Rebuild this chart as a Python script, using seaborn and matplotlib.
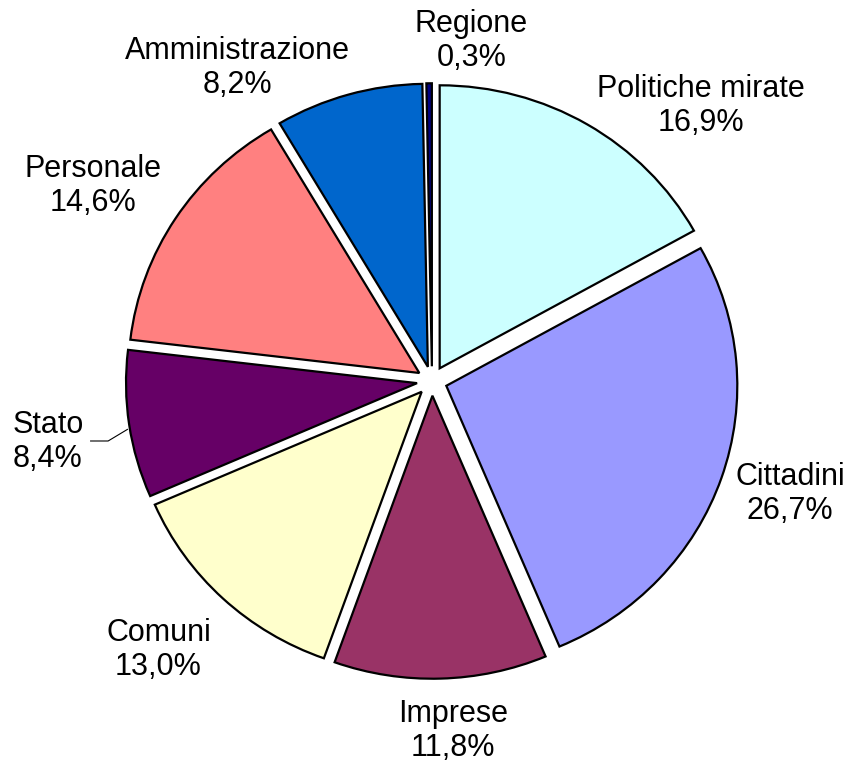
import matplotlib
matplotlib.use("Agg")
import matplotlib.pyplot as plt
import seaborn as sns

# Share of the total by destination (percent)
categories = ["Politiche mirate", "Cittadini", "Imprese", "Comuni",
              "Stato", "Personale", "Amministrazione", "Regione"]
shares = [16.9, 26.7, 11.8, 13.0, 8.4, 14.6, 8.2, 0.3]

colors = ["#CCFFFF", "#9999FF", "#993366", "#FFFFCC",
          "#660066", "#FF8080", "#0066CC", "#000080"]

# Label anchor positions (centre of the two-line text block), in pie units
label_pos = {
    "Politiche mirate": (0.925, 0.972),
    "Cittadini": (1.230, -0.399),
    "Imprese": (0.072, -1.237),
    "Comuni": (-0.940, -0.951),
    "Stato": (-1.320, -0.216),
    "Personale": (-1.165, 0.689),
    "Amministrazione": (-0.670, 1.106),
    "Regione": (0.135, 1.201),
}

sns.set_theme(style="white")
plt.rcParams["font.family"] = ["Liberation Sans", "DejaVu Sans"]

fig = plt.figure(figsize=(8.58, 7.69), dpi=100)
ax = fig.add_axes([0, 0, 1, 1])

wedges, _ = ax.pie(
    shares,
    colors=colors,
    startangle=90,
    counterclock=False,
    explode=[0.052] * len(shares),
    wedgeprops=dict(edgecolor="black", linewidth=1.6),
)

for cat, val in zip(categories, shares):
    x, y = label_pos[cat]
    txt = f"{cat}\n{val:.1f}".replace(".", ",") + "%"
    ax.text(x, y, txt, ha="center", va="center", fontsize=22,
            color="black", linespacing=1.2)

# Leader line for the Stato label
ax.plot([-1.175, -1.113, -1.045], [-0.212, -0.212, -0.170],
        color="black", linewidth=0.8, solid_capstyle="butt")

ax.set_aspect("auto")
ax.set_xlim(-432 / 291, (858 - 432) / 291)
ax.set_ylim((381 - 769) / 283, 381 / 283)
ax.axis("off")

fig.savefig("out.png", dpi=100, facecolor="white")
